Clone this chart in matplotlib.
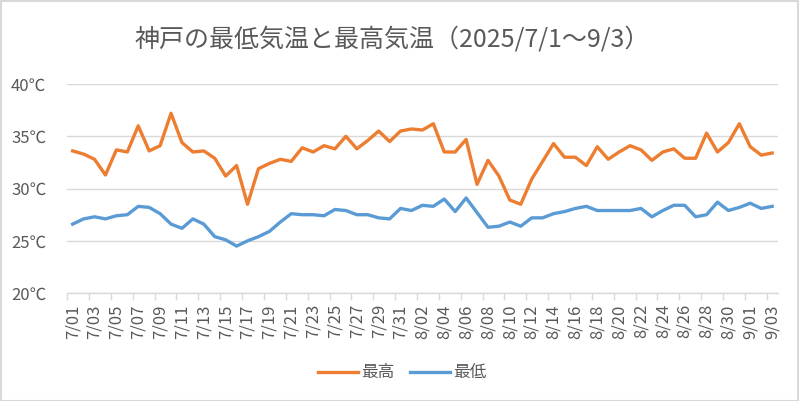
import matplotlib
matplotlib.use("Agg")
import matplotlib.pyplot as plt
import pandas as pd
from matplotlib.patches import Rectangle

plt.rcParams['font.family'] = ['Noto Sans CJK JP', 'DejaVu Sans']

# 日付 (7/1 - 9/3)
dates = pd.date_range("2025-07-01", "2025-09-03", freq="D")
date_labels = [d.strftime("%-m/%d") for d in dates]

# 最高気温
high = [33.6, 33.3, 32.8, 31.3, 33.7, 33.5, 36.0, 33.6, 34.1, 37.2,
        34.4, 33.5, 33.6, 32.9, 31.2, 32.2, 28.5, 31.9, 32.4, 32.8,
        32.6, 33.9, 33.5, 34.1, 33.8, 35.0, 33.8, 34.6, 35.5, 34.5,
        35.5, 35.7, 35.6, 36.2, 33.5, 33.5, 34.7, 30.4, 32.7, 31.2,
        28.9, 28.5, 30.9, 32.6, 34.3, 33.0, 33.0, 32.2, 34.0, 32.8,
        33.5, 34.1, 33.7, 32.7, 33.5, 33.8, 32.9, 32.9, 35.3, 33.5,
        34.4, 36.2, 34.0, 33.2, 33.4]

# 最低気温
low = [26.6, 27.1, 27.3, 27.1, 27.4, 27.5, 28.3, 28.2, 27.6, 26.6,
       26.2, 27.1, 26.6, 25.4, 25.1, 24.5, 25.0, 25.4, 25.9, 26.8,
       27.6, 27.5, 27.5, 27.4, 28.0, 27.9, 27.5, 27.5, 27.2, 27.1,
       28.1, 27.9, 28.4, 28.3, 29.0, 27.8, 29.1, 27.7, 26.3, 26.4,
       26.8, 26.4, 27.2, 27.2, 27.6, 27.8, 28.1, 28.3, 27.9, 27.9,
       27.9, 27.9, 28.1, 27.3, 27.9, 28.4, 28.4, 27.3, 27.5, 28.7,
       27.9, 28.2, 28.6, 28.1, 28.3]

y_ticks = [20, 25, 30, 35, 40]

grey_text = "#595959"
grey_line = "#d9d9d9"

fig = plt.figure(figsize=(8, 4.01), dpi=100)
ax = fig.add_axes([0.084, 0.269, 0.888, 0.5215])

x = list(range(len(dates)))
ax.plot(x, high, color="#ed7d31", lw=2.4, label="最高", solid_joinstyle="round")
ax.plot(x, low, color="#5b9bd5", lw=2.4, label="最低", solid_joinstyle="round")

ax.set_xlim(-0.5, len(dates) - 0.5)
ax.set_ylim(20, 40)
ax.set_yticks(y_ticks)
ax.set_yticklabels([f"{t}℃" for t in y_ticks])
ax.grid(axis="y", color=grey_line, lw=1)
ax.set_axisbelow(True)

ax.set_xticks(x[::2])
ax.set_xticklabels(date_labels[::2], rotation=90)
ax.set_xticks([i - 0.5 for i in x[::2]], minor=True)
ax.tick_params(axis="x", which="major", length=0, pad=8, labelsize=12, labelcolor=grey_text)
ax.tick_params(axis="x", which="minor", length=5, color=grey_line, width=1)
ax.tick_params(axis="y", length=0, pad=15, labelsize=12, labelcolor=grey_text)

for side in ["top", "right", "left"]:
    ax.spines[side].set_visible(False)
ax.spines["bottom"].set_color(grey_line)
ax.spines["bottom"].set_linewidth(1)

fig.suptitle("神戸の最低気温と最高気温（2025/7/1～9/3）", x=0.49, y=0.935,
             fontsize=18, color=grey_text)

fig.legend(loc="center", bbox_to_anchor=(0.503, 0.07), ncol=2, frameon=False,
           fontsize=12, labelcolor=grey_text, handlelength=2.4,
           handletextpad=0.2, columnspacing=0.9)

fig.add_artist(Rectangle((0.001, 0.001), 0.997, 0.996, transform=fig.transFigure,
                         fill=False, edgecolor=grey_line, lw=1.5))

fig.savefig("out.png", dpi=100)
